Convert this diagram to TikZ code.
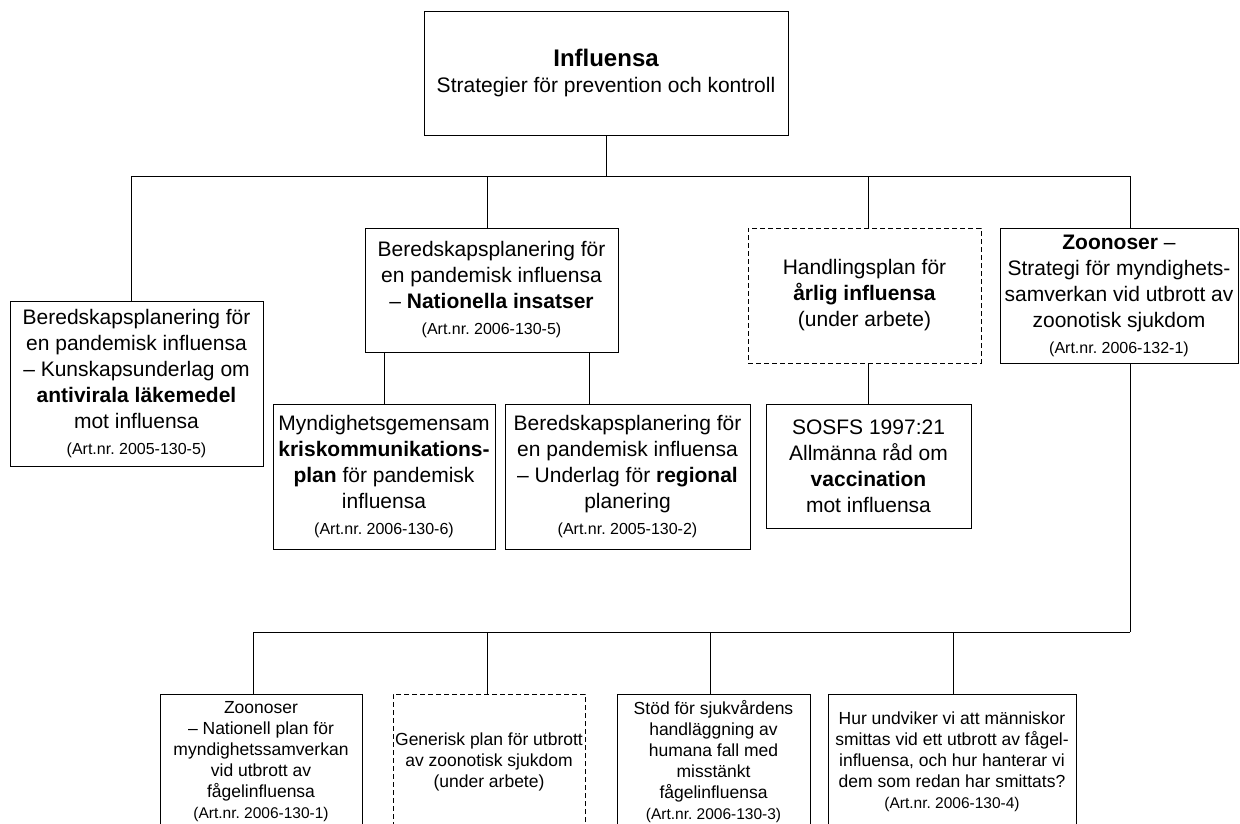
\documentclass[tikz,border=0pt]{standalone}
\usepackage{fontspec}
\setmainfont{Liberation Sans}
\frenchspacing
\newcommand{\artnr}{\fontsize{16}{19}\selectfont}
\newcommand{\artnrs}{\fontsize{15.5}{18.5}\selectfont}

\begin{document}
\begin{tikzpicture}[x=1pt,y=-1pt,line width=1pt,
    box/.style={draw,align=center,inner sep=0pt,font=\fontsize{21}{26}\selectfont},
    lowbox/.style={draw,align=center,inner sep=0pt,minimum height=136pt,font=\fontsize{17.5}{21}\selectfont},
    planned/.style={dash pattern=on 5pt off 3pt}]
  \clip (0,0) rectangle (1240,823);
  \fill[white] (0,0) rectangle (1240,823);

  % top
  \node[box,minimum width=364pt,minimum height=124pt] (top) at (606,73)
    {{\fontsize{24}{28}\selectfont\bfseries Influensa}\\ Strategier för prevention och kontroll};

  % first row
  \node[box,minimum width=253pt,minimum height=165pt] (anti) at (136.5,383.5)
    {Beredskapsplanering för\\ en pandemisk influensa\\ – Kunskapsunderlag om\\
     \textbf{antivirala läkemedel}\\ mot influensa\\ {\artnr (Art.nr. 2005-130-5)}};
  \node[box,minimum width=253pt,minimum height=124pt] (nat) at (491.5,290)
    {Beredskapsplanering för\\ en pandemisk influensa\\ – \textbf{Nationella insatser}\\
     {\artnr (Art.nr. 2006-130-5)}};
  \node[box,planned,minimum width=233pt,minimum height=135pt] (arlig) at (864.5,295.5)
    {Handlingsplan för\\ \textbf{årlig influensa}\\ (under arbete)};
  \node[box,minimum width=238pt,minimum height=135pt] (zoo) at (1119,295.5)
    {\textbf{Zoonoser} –\\ Strategi för myndighets-\\ samverkan vid utbrott av\\
     zoonotisk sjukdom\\ {\artnr (Art.nr. 2006-132-1)}};

  % second row
  \node[box,minimum width=222pt,minimum height=145pt] (kris) at (384,476.5)
    {Myndighetsgemensam\\ \textbf{kriskommunikations-}\\ \textbf{plan} för pandemisk\\
     influensa\\ {\artnr (Art.nr. 2006-130-6)}};
  \node[box,minimum width=245pt,minimum height=145pt] (reg) at (627.5,476.5)
    {Beredskapsplanering för\\ en pandemisk influensa\\ – Underlag för \textbf{regional}\\
     planering\\ {\artnr (Art.nr. 2005-130-2)}};
  \node[box,minimum width=205pt,minimum height=124pt] (vacc) at (868.5,466)
    {SOSFS 1997:21\\ Allmänna råd om\\ \textbf{vaccination}\\ mot influensa};

  % third row
  \node[lowbox,minimum width=202pt] (fagel) at (261,762)
    {Zoonoser\\ – Nationell plan för\\ myndighetssamverkan\\ vid utbrott av\\
     fågelinfluensa\\ {\artnrs (Art.nr. 2006-130-1)}};
  \node[lowbox,planned,minimum width=192pt] (gen) at (489,762)
    {Generisk plan för utbrott\\ av zoonotisk sjukdom\\ (under arbete)};
  \node[lowbox,minimum width=193pt] (stod) at (713.5,762)
    {Stöd för sjukvårdens\\ handläggning av\\ humana fall med\\ misstänkt\\
     fågelinfluensa\\ {\artnrs (Art.nr. 2006-130-3)}};
  \node[lowbox,minimum width=248pt] (smitt) at (952,762)
    {Hur undviker vi att människor\\ smittas vid ett utbrott av fågel-\\
     influensa, och hur hanterar vi\\ dem som redan har smittats?\\
     {\artnrs (Art.nr. 2006-130-4)}};

  % upper bus
  \coordinate (tbus) at (606,176);
  \coordinate (dA) at (131,176);
  \coordinate (dB) at (487,176);
  \coordinate (dC) at (868,176);
  \coordinate (dD) at (1130,176);
  \draw (top) -- (tbus);
  \draw (dA) -- (dD);
  \draw (dA) -- (dA |- anti.north);
  \draw (dB) -- (dB |- nat.north);
  \draw (dC) -- (dC |- arlig.north);
  \draw (dD) -- (dD |- zoo.north);

  % below the first row
  \coordinate (dF) at (589,0);
  \draw (nat.south -| kris.north) -- (kris.north);
  \draw (nat.south -| dF) -- (reg.north -| dF);
  \draw (arlig.south -| vacc.north) -- (vacc.north);

  % lower bus
  \coordinate (lbus) at (1130,632);
  \coordinate (dH) at (253,632);
  \coordinate (dI) at (487,632);
  \coordinate (dJ) at (710,632);
  \coordinate (dK) at (953,632);
  \draw (zoo.south -| lbus) -- (lbus);
  \draw (dH) -- (lbus);
  \draw (dH) -- (dH |- fagel.north);
  \draw (dI) -- (dI |- gen.north);
  \draw (dJ) -- (dJ |- stod.north);
  \draw (dK) -- (dK |- smitt.north);
\end{tikzpicture}
\end{document}
